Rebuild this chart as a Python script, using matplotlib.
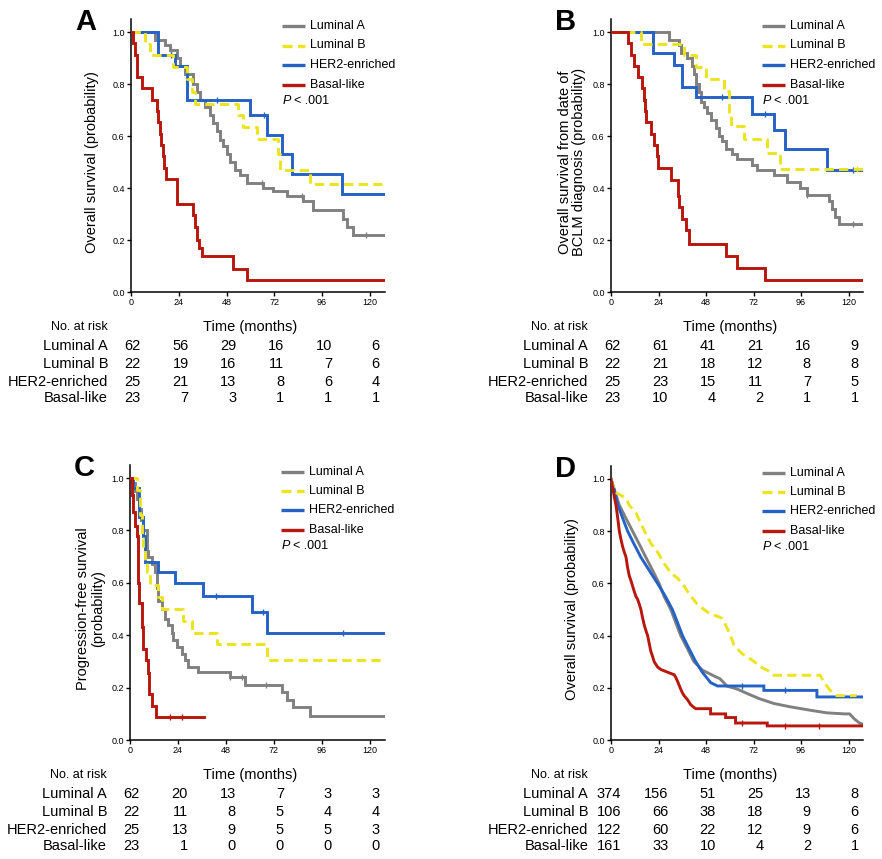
import numpy as np
import matplotlib
matplotlib.use('Agg')
from matplotlib import pyplot as plt
from matplotlib.lines import Line2D

plt.rcParams['font.family'] = ['Liberation Sans', 'DejaVu Sans']

GROUPS = ['Luminal A', 'Luminal B', 'HER2-enriched', 'Basal-like']
COLORS = ['#808080', '#ece41e', '#2462c6', '#b8170d']
STYLES = ['-', (0, (3.2, 1.8)), '-', '-']
ZORDERS = [2, 4, 3, 5]
TIME_TICKS = [0, 24, 48, 72, 96, 120]

# ---- panel A: overall survival ----
A_luma_t = [0, 12.0, 17.1, 19.6, 22.9, 24.6, 27.1, 31.3, 33.0, 34.7, 37.2, 39.7, 41.4, 43.0, 44.7, 46.4,
            48.1, 49.7, 52.3, 54.8, 58.1, 66.5, 71.5, 78.2, 86.6, 91.6, 106.7, 108.4, 111.7, 127.5]
A_luma_s = [1.0, 0.97, 0.95, 0.93, 0.90, 0.87, 0.84, 0.80, 0.77, 0.74, 0.71, 0.68, 0.65, 0.62, 0.585, 0.56,
            0.53, 0.50, 0.47, 0.45, 0.42, 0.40, 0.39, 0.37, 0.35, 0.315, 0.28, 0.25, 0.22, 0.22]
A_lumb_t = [0, 7.0, 9.5, 21.3, 28.0, 30.5, 32.2, 53.9, 56.4, 63.1, 74.0, 74.9, 90.0, 127.5]
A_lumb_s = [1.0, 0.955, 0.91, 0.865, 0.82, 0.77, 0.725, 0.68, 0.635, 0.59, 0.53, 0.47, 0.415, 0.415]
A_her2_t = [0, 13.7, 22.1, 28.0, 59.8, 68.2, 75.7, 80.7, 105.9, 127.5]
A_her2_s = [1.0, 0.91, 0.87, 0.737, 0.68, 0.603, 0.532, 0.455, 0.378, 0.378]
A_basal_t = [0, 1.0, 1.8, 2.8, 5.4, 10.4, 12.9, 13.8, 14.5, 15.3, 16.0, 16.8, 17.6, 23.0, 31.3, 32.0,
             33.0, 34.0, 35.5, 51.4, 58.1, 127.5]
A_basal_s = [1.0, 0.957, 0.913, 0.826, 0.783, 0.739, 0.696, 0.652, 0.609, 0.565, 0.522, 0.478, 0.435,
             0.34, 0.295, 0.25, 0.20, 0.17, 0.14, 0.09, 0.045, 0.045]
A_cens = [[20, 66, 86, 118], [], [20, 43, 67], []]
A_risk = [[62, 56, 29, 16, 10, 6], [22, 19, 16, 11, 7, 6], [25, 21, 13, 8, 6, 4], [23, 7, 3, 1, 1, 1]]

# ---- panel B: overall survival from BCLM diagnosis ----
B_luma_t = [0, 29.4, 34.4, 35.2, 38.6, 41.1, 41.9, 42.8, 44.5, 45.3, 47.0, 48.7, 50.3, 52.9, 54.5, 56.2,
            57.9, 61.2, 63.8, 71.3, 73.8, 82.2, 88.9, 95.6, 99.0, 109.9, 111.6, 113.3, 114.9, 127.5]
B_luma_s = [1.0, 0.97, 0.95, 0.92, 0.90, 0.87, 0.84, 0.80, 0.77, 0.73, 0.71, 0.69, 0.66, 0.63, 0.60, 0.58,
            0.55, 0.53, 0.51, 0.49, 0.47, 0.45, 0.425, 0.40, 0.375, 0.35, 0.32, 0.29, 0.26, 0.26]
B_lumb_t = [0, 15.1, 36.9, 42.8, 47.8, 57.0, 59.5, 60.4, 67.1, 78.9, 85.6, 127.5]
B_lumb_s = [1.0, 0.955, 0.91, 0.865, 0.82, 0.775, 0.68, 0.64, 0.59, 0.535, 0.475, 0.475]
B_her2_t = [0, 21.0, 31.9, 36.1, 42.8, 71.3, 82.2, 88.1, 109.1, 127.5]
B_her2_s = [1.0, 0.92, 0.875, 0.79, 0.75, 0.686, 0.622, 0.551, 0.47, 0.47]
B_basal_t = [0, 8.4, 10.1, 11.7, 13.4, 15.9, 16.8, 17.2, 17.6, 20.1, 21.8, 23.0, 23.5, 30.2, 33.6, 34.4,
             36.1, 37.8, 39.4, 57.9, 63.8, 78.0, 127.5]
B_basal_s = [1.0, 0.957, 0.913, 0.87, 0.826, 0.783, 0.739, 0.696, 0.652, 0.609, 0.565, 0.522, 0.478, 0.43,
             0.37, 0.327, 0.28, 0.237, 0.186, 0.137, 0.093, 0.045, 0.045]
B_cens = [[99, 122], [124], [56, 78, 122], []]
B_risk = [[62, 61, 41, 21, 16, 9], [22, 21, 18, 12, 8, 8], [25, 23, 15, 11, 7, 5], [23, 10, 4, 2, 1, 1]]

# ---- panel C: progression-free survival ----
C_luma_t = [0, 1.0, 2.5, 3.3, 4.5, 5.5, 6.7, 8.3, 9.2, 10.8, 12.5, 13.3, 14.2, 15.8, 17.5, 19.2, 20.8,
            21.7, 23.3, 25.8, 27.5, 29.2, 34.2, 50.0, 57.5, 75.8, 78.3, 81.7, 90.0, 127.5]
C_luma_s = [1.0, 0.98, 0.95, 0.92, 0.88, 0.84, 0.80, 0.72, 0.70, 0.67, 0.64, 0.58, 0.53, 0.50, 0.46, 0.44,
            0.41, 0.38, 0.355, 0.33, 0.305, 0.28, 0.26, 0.24, 0.21, 0.185, 0.153, 0.125, 0.093, 0.093]
C_lumb_t = [0, 3.3, 5.0, 6.0, 6.7, 7.5, 8.3, 10.0, 14.2, 15.8, 26.7, 30.8, 43.3, 68.3, 127.5]
C_lumb_s = [1.0, 0.955, 0.86, 0.77, 0.73, 0.68, 0.64, 0.59, 0.545, 0.50, 0.455, 0.41, 0.365, 0.305, 0.305]
C_her2_t = [0, 1.7, 4.7, 6.7, 7.5, 14.2, 22.5, 36.7, 60.8, 68.3, 127.5]
C_her2_s = [1.0, 0.96, 0.85, 0.78, 0.68, 0.64, 0.60, 0.55, 0.49, 0.41, 0.41]
C_basal_t = [0, 0.8, 1.7, 2.5, 3.3, 3.8, 4.2, 4.6, 5.8, 6.3, 8.0, 9.2, 9.6, 10.8, 13.0, 37.0]
C_basal_s = [1.0, 0.935, 0.87, 0.815, 0.777, 0.70, 0.60, 0.522, 0.43, 0.348, 0.304, 0.255, 0.174, 0.13,
             0.087, 0.087]
C_cens = [[50, 56, 68], [], [43, 66.7, 106.7], [20, 26]]
C_risk = [[62, 20, 13, 7, 3, 3], [22, 11, 8, 5, 4, 4], [25, 13, 9, 5, 5, 3], [23, 1, 0, 0, 0, 0]]

# ---- panel D: overall survival, large cohort (vertices of the fine staircase) ----
D_luma_t = [0, 2.0, 4.2, 7.5, 10.9, 14.3, 17.6, 21.0, 24.3, 26.8, 30.2, 32.7, 35.2, 38.6, 41.9, 46.1,
            52.9, 55.0, 58.7, 63.8, 68.8, 74.7, 82.2, 90.6, 100.7, 109.0, 118.0, 120.5, 123.0, 125.5, 127.5]
D_luma_s = [1.0, 0.95, 0.90, 0.85, 0.80, 0.75, 0.70, 0.65, 0.60, 0.55, 0.50, 0.45, 0.40, 0.35, 0.30, 0.268,
            0.242, 0.235, 0.206, 0.195, 0.178, 0.159, 0.14, 0.127, 0.114, 0.104, 0.10, 0.10, 0.08, 0.065, 0.06]
D_lumb_t = [0, 2.0, 7.5, 9.2, 12.6, 15.1, 17.6, 20.1, 23.5, 26.8, 30.2, 33.6, 36.9, 39.4, 43.6, 48.7, 56.2,
            57.9, 60.4, 62.1, 66.3, 71.3, 75.5, 80.5, 82.2, 105.7, 107.4, 110.7, 114.0, 124.0]
D_lumb_s = [1.0, 0.95, 0.927, 0.90, 0.87, 0.83, 0.79, 0.754, 0.72, 0.677, 0.64, 0.62, 0.59, 0.56, 0.52,
            0.49, 0.466, 0.44, 0.40, 0.364, 0.33, 0.306, 0.28, 0.261, 0.248, 0.248, 0.223, 0.19, 0.17, 0.17]
D_her2_t = [0, 2.0, 3.4, 5.9, 8.4, 11.7, 15.1, 19.3, 23.5, 27.5, 31.0, 33.6, 36.1, 39.4, 42.8, 46.1, 50.3,
            53.7, 77.2, 77.2, 104.0, 104.0, 127.5]
D_her2_s = [1.0, 0.95, 0.90, 0.85, 0.80, 0.75, 0.70, 0.65, 0.60, 0.55, 0.50, 0.45, 0.40, 0.35, 0.30, 0.26,
            0.22, 0.207, 0.207, 0.19, 0.19, 0.165, 0.165]
D_basal_t = [0, 0.8, 1.7, 2.5, 3.4, 4.2, 5.0, 5.9, 6.7, 7.6, 8.4, 9.2, 10.1, 10.9, 11.7, 12.6, 13.4, 14.3,
             15.1, 15.9, 16.8, 17.6, 18.5, 19.3, 20.1, 21.0, 21.8, 23.5, 25.2, 28.5, 31.9, 32.7, 33.6, 34.4,
             35.2, 36.1, 36.9, 38.6, 40.3, 41.9, 42.8, 50.3, 50.3, 57.9, 57.9, 62.9, 62.9, 78.9, 78.9, 127.5]
D_basal_s = [1.0, 0.97, 0.93, 0.90, 0.85, 0.80, 0.77, 0.74, 0.72, 0.70, 0.66, 0.63, 0.61, 0.59, 0.57, 0.55,
             0.54, 0.52, 0.50, 0.47, 0.44, 0.42, 0.40, 0.37, 0.34, 0.32, 0.30, 0.28, 0.27, 0.26, 0.25, 0.24,
             0.225, 0.21, 0.195, 0.18, 0.17, 0.155, 0.135, 0.125, 0.12, 0.12, 0.10, 0.10, 0.086, 0.086, 0.065,
             0.065, 0.054, 0.054]
D_cens = [[], [], [66, 88], [66, 88, 105]]
D_risk = [[374, 156, 51, 25, 13, 8], [106, 66, 38, 18, 9, 6], [122, 60, 22, 12, 9, 6], [161, 33, 10, 4, 2, 1]]

W, H = 882, 859
fig = plt.figure(figsize=(W / 100, H / 100), dpi=100)


def fx(px):
    return px / W


def fy(py):
    return 1 - py / H


def draw_panel(letter, left, bottom, xs, ys, ylabel, lab_spacing, curves, cens, risk, steps=True):
    xmax, ymax = 127.5, 1.05
    width, height = xmax * xs, ymax * ys
    ax = fig.add_axes([fx(left), fy(bottom), width / W, height / H])
    top = bottom - height

    for i, (t, s) in enumerate(curves):
        ax.plot(t, s, color=COLORS[i], ls=STYLES[i], lw=2.1, zorder=ZORDERS[i],
                drawstyle='steps-post' if steps else 'default', solid_joinstyle='miter')
        if cens[i]:
            if steps:
                idx = np.searchsorted(t, cens[i], side='right') - 1
                cy = np.asarray(s)[idx]
            else:
                cy = np.interp(cens[i], t, s)
            ax.plot(cens[i], cy, ls='none', marker='|', ms=4.5, mew=1.0, color=COLORS[i], zorder=ZORDERS[i])

    ax.set_xlim(0, xmax)
    ax.set_ylim(0, ymax)
    for side in ['top', 'right']:
        ax.spines[side].set_visible(False)
    for side in ['left', 'bottom']:
        ax.spines[side].set_linewidth(1.1)
    ax.set_xticks(TIME_TICKS)
    ax.set_yticks([0, 0.2, 0.4, 0.6, 0.8, 1.0])
    ax.set_yticklabels(['0.0', '0.2', '0.4', '0.6', '0.8', '1.0'])
    ax.tick_params(direction='out', length=3, width=1, labelsize=6.5, pad=1.5)

    fig.text(fx(left - 39), fy(bottom - 0.5 * ys), ylabel, rotation=90, ha='center', va='center',
             fontsize=10.5, linespacing=lab_spacing)
    fig.text(fx(left - 56), fy(top + 11), letter, fontsize=21, weight='bold', va='baseline')

    # legend
    rows = [7, 26.5, 45.5, 65.5]
    for i, name in enumerate(GROUPS):
        yy = fy(top + rows[i])
        dash = STYLES[i] if i != 1 else (0, (3.0, 1.7))
        fig.add_artist(Line2D([fx(left + 151), fx(left + 174)], [yy, yy], transform=fig.transFigure,
                              color=COLORS[i], lw=2.4, ls=dash, solid_capstyle='butt', dash_capstyle='butt'))
        fig.text(fx(left + 179), yy, name, fontsize=9, va='center', ha='left')
    fig.text(fx(left + 152), fy(top + 81.5), 'P', fontsize=9, style='italic', va='center')
    fig.text(fx(left + 163), fy(top + 81.5), '< .001', fontsize=9, va='center')

    # number at risk table
    def below(tx, off, txt, **kw):
        ax.annotate(txt, xy=(tx, 0), xycoords=('data', 'axes fraction'), xytext=(0, -off * 0.72),
                    textcoords='offset points', va='center', annotation_clip=False, **kw)

    below(-11.5, 34.5, 'No. at risk', fontsize=9, ha='right')
    below(60, 34.5, 'Time (months)', fontsize=10.5, ha='center')
    for r, off in enumerate([54.5, 72, 89.5, 106]):
        below(-11.5, off, GROUPS[r], fontsize=10.5, ha='right')
        for j, tick in enumerate(TIME_TICKS):
            below(tick + 5, off, str(risk[r][j]), fontsize=10.5, ha='right')
    return ax


draw_panel('A', 131, 292, 1.99, 260, 'Overall survival (probability)', 1.0,
           [(A_luma_t, A_luma_s), (A_lumb_t, A_lumb_s), (A_her2_t, A_her2_s), (A_basal_t, A_basal_s)],
           A_cens, A_risk)
draw_panel('B', 611, 292, 1.98, 260, 'Overall survival from date of\nBCLM diagnosis (probability)', 1.0,
           [(B_luma_t, B_luma_s), (B_lumb_t, B_lumb_s), (B_her2_t, B_her2_s), (B_basal_t, B_basal_s)],
           B_cens, B_risk)
draw_panel('C', 130, 740, 2.0, 262, 'Progression-free survival\n(probability)', 1.1,
           [(C_luma_t, C_luma_s), (C_lumb_t, C_lumb_s), (C_her2_t, C_her2_s), (C_basal_t, C_basal_s)],
           C_cens, C_risk)
draw_panel('D', 611, 740, 1.98, 261, 'Overall survival (probability)', 1.0,
           [(D_luma_t, D_luma_s), (D_lumb_t, D_lumb_s), (D_her2_t, D_her2_s), (D_basal_t, D_basal_s)],
           D_cens, D_risk, steps=False)

fig.savefig('out.png', dpi=100)
